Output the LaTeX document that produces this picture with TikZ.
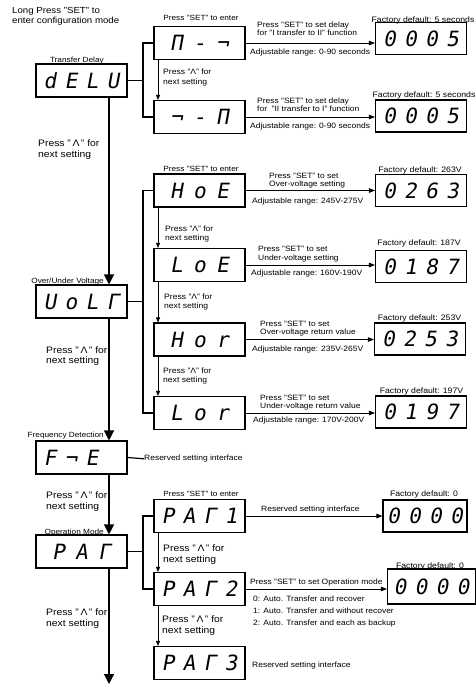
\documentclass[tikz,border=0pt]{standalone}
\usepackage{fontspec}
\setmainfont{Liberation Sans}[FakeStretch=1.1]
\newfontfamily\lcdfont{DejaVu Sans Mono}[FakeSlant=0.18]
\usetikzlibrary{arrows.meta}

\newcommand{\lcdch}[2][21pt]{\makebox[#1][c]{#2}}
\newcommand{\lcdfour}[4]{{\lcdfont\fontsize{21}{21}\selectfont\vphantom{0}\lcdch{#1}\lcdch{#2}\lcdch{#3}\lcdch{#4}}}
\newcommand{\lcdthree}[3]{{\lcdfont\fontsize{21}{21}\selectfont\vphantom{0}\lcdch[23pt]{#1}\lcdch[23pt]{#2}\lcdch[23pt]{#3}\hspace{15pt}}}

\tikzset{
  lcdbox/.style={draw, line width=1.1pt, fill=white, minimum width=91pt, minimum height=33pt, inner sep=0pt},
  valbox/.style={lcdbox, minimum height=32pt},
  catlabel/.style={font=\fontsize{7.5}{9}\selectfont, inner sep=0pt, anchor=base east},
  deflabel/.style={font=\fontsize{7.9}{9}\selectfont, inner sep=0pt, anchor=base},
  note/.style={font=\fontsize{7.7}{8}\selectfont, inner sep=0pt, align=left, anchor=north west},
  hint/.style={font=\fontsize{7.8}{9}\selectfont, inner sep=0pt, align=left, anchor=north west},
  bighint/.style={font=\fontsize{9.4}{11}\selectfont, inner sep=0pt, align=left, anchor=north west},
  mainarrow/.style={line width=1.2pt, -{Triangle[width=10pt,length=10pt]}},
  busline/.style={line width=1.2pt},
  nextarrow/.style={line width=0.7pt, -{Triangle[width=4pt,length=5pt]}},
  setarrow/.style={line width=0.8pt, -{Triangle[width=4.5pt,length=6pt]}}
}

\begin{document}
\begin{tikzpicture}[x=1pt, y=-1pt]
\useasboundingbox (0,0) rectangle (476,686);

% how to get in
\node[note, font=\fontsize{8.8}{10}\selectfont] (entry) at (12,7.6) {Long Press "SET" to\\enter configuration mode};

% main menu column
\node[lcdbox] (dely) at (81.5,80.5) {\lcdfour{d}{E}{L}{U}};
\node[lcdbox] (volt) at (81.5,301.5) {\lcdfour{U}{o}{L}{Γ}};
\node[lcdbox] (freq) at (81.5,457.5) {\lcdfour{F}{¬}{E}{}};
\node[lcdbox] (opmode) at (81.5,551.5) {\lcdthree{P}{A}{Γ}};

\node[catlabel] (delycat) at (104,62) {Transfer Delay};
\node[catlabel] (voltcat) at (104,283) {Over/Under Voltage};
\node[catlabel] (freqcat) at (104,437) {Frequency Detection};
\node[catlabel] (opcat) at (104,534) {Operation Mode};

\coordinate (tail) at (109,684);
\draw[mainarrow] ([xshift=27.5]dely.south) -- ([xshift=27.5]volt.north);
\draw[mainarrow] ([xshift=27.5]volt.south) -- ([xshift=27.5]freq.north);
\draw[mainarrow] ([xshift=27.5]freq.south) -- ([xshift=27.5]opmode.north);
\draw[mainarrow] ([xshift=27.5]opmode.south) -- (tail);

\node[bighint] (mainhinta) at (38,139.6) {Press "\,Λ\," for\\next setting};
\node[bighint, font=\fontsize{9.4}{10}\selectfont] (mainhintb) at (46,346.6) {Press "\,Λ\," for\\next setting};
\node[bighint] (mainhintc) at (46,491.6) {Press "\,Λ\," for\\next setting};
\node[bighint] (mainhintd) at (46,608.6) {Press "\,Λ\," for\\next setting};

% sub menus
\coordinate (bus) at (143,0);
\node[lcdbox] (itoii) at (199.5,43) {\lcdthree{Π}{-}{¬}};
\node[lcdbox] (iitoi) at (199.5,117) {\lcdthree{¬}{-}{Π}};
\node[lcdbox] (hoe) at (199.5,190.5) {\lcdthree{H}{o}{E}};
\node[lcdbox] (loe) at (199.5,265) {\lcdthree{L}{o}{E}};
\node[lcdbox] (hor) at (199.5,339.5) {\lcdthree{H}{o}{r}};
\node[lcdbox] (lor) at (199.5,413) {\lcdthree{L}{o}{r}};
\node[lcdbox] (parone) at (199.5,516) {\lcdfour{P}{A}{Γ}{1}};
\node[lcdbox] (partwo) at (199.5,589) {\lcdfour{P}{A}{Γ}{2}};
\node[lcdbox] (parthree) at (199.5,663) {\lcdfour{P}{A}{Γ}{3}};

\node[deflabel, font=\fontsize{7.5}{9}\selectfont] (enterd) at (201,20) {Press "SET" to enter};
\node[deflabel, font=\fontsize{7.5}{9}\selectfont] (enterv) at (201,171) {Press "SET" to enter};
\node[deflabel, font=\fontsize{7.5}{9}\selectfont] (entero) at (201,496) {Press "SET" to enter};

\draw[busline] (dely.east) -- (dely.east -| bus);
\draw[busline] (itoii.west) -| (bus |- iitoi.west) -- (iitoi.west);
\draw[busline] (volt.east) -- (volt.east -| bus);
\draw[busline] (hoe.west) -| (bus |- lor.west) -- (lor.west);
\draw[busline] (opmode.east) -- (opmode.east -| bus);
\draw[busline] (parone.west) -| (bus |- partwo.west) -- (partwo.west);

\draw[nextarrow] ([xshift=-41.5]itoii.south) -- ([xshift=-41.5]iitoi.north);
\draw[nextarrow] ([xshift=-41.5]hoe.south) -- ([xshift=-41.5]loe.north);
\draw[nextarrow] ([xshift=-41.5]loe.south) -- ([xshift=-41.5]hor.north);
\draw[nextarrow] ([xshift=-41.5]hor.south) -- ([xshift=-41.5]lor.north);
\draw[nextarrow] ([xshift=-41.5]parone.south) -- ([xshift=-41.5]partwo.north);
\draw[nextarrow] ([xshift=-41.5]partwo.south) -- ([xshift=-41.5]parthree.north);

\node[hint, font=\fontsize{7.8}{10}\selectfont] (hinta) at (163,69) {Press "Λ" for\\next setting};
\node[hint] (hintb) at (165,225.5) {Press "Λ" for\\next setting};
\node[hint] (hintc) at (164,293.5) {Press "Λ" for\\next setting};
\node[hint, font=\fontsize{7.8}{8.5}\selectfont] (hintd) at (163,368) {Press "Λ" for\\next setting};
\node[bighint, font=\fontsize{9.4}{10.5}\selectfont] (hinte) at (163,544.6) {Press "\,Λ\," for\\next setting};
\node[bighint, font=\fontsize{9.4}{10.5}\selectfont] (hintf) at (162,615.6) {Press "\,Λ\," for\\next setting};

% values
\node[valbox] (vone) at (421,38.5) {\lcdfour{0}{0}{0}{5}};
\node[valbox] (vtwo) at (421,116) {\lcdfour{0}{0}{0}{5}};
\node[valbox] (vthree) at (421,190.5) {\lcdfour{0}{2}{6}{3}};
\node[valbox] (vfour) at (421,266.5) {\lcdfour{0}{1}{8}{7}};
\node[valbox] (vfive) at (420,339) {\lcdfour{0}{2}{5}{3}};
\node[valbox] (vsix) at (421,412) {\lcdfour{0}{1}{9}{7}};
\node[valbox, minimum width=84pt] (vseven) at (425,516) {\lcdfour{0}{0}{0}{0}};
\node[valbox, minimum width=88pt, minimum height=35pt] (veight) at (431.5,586.5) {\lcdfour{0}{0}{0}{0}};

\node[deflabel] (dfone) at (423,22) {Factory default: 5 seconds};
\node[deflabel] (dftwo) at (424,97) {Factory default: 5 seconds};
\node[deflabel] (dfthree) at (420,172) {Factory default: 263V};
\node[deflabel] (dffour) at (419,245) {Factory default: 187V};
\node[deflabel] (dffive) at (419.5,320) {Factory default: 253V};
\node[deflabel] (dfsix) at (421.5,393) {Factory default: 197V};
\node[deflabel] (dfseven) at (424,496) {Factory default: 0};
\node[deflabel] (dfeight) at (430,568) {Factory default: 0};

\draw[setarrow] (itoii.east) -- (itoii.east -| vone.west);
\draw[setarrow] (iitoi.east) -- (iitoi.east -| vtwo.west);
\draw[setarrow] (hoe.east) -- (hoe.east -| vthree.west);
\draw[setarrow] (loe.east) -- (loe.east -| vfour.west);
\draw[setarrow] (hor.east) -- (hor.east -| vfive.west);
\draw[setarrow] (lor.east) -- (lor.east -| vsix.west);
\draw[setarrow] (parone.east) -- (parone.east -| vseven.west);
\draw[setarrow] (partwo.east) -- (partwo.east -| veight.west);

\node[note] (noteone) at (257,22) {Press "SET" to set delay\\for "I transfer to II" function};
\node[note] (rangeone) at (250,49) {Adjustable range: 0-90 seconds};
\node[note] (notetwo) at (257,98) {Press "SET" to set delay\\for \ "II transfer to I" function};
\node[note] (rangetwo) at (250,123) {Adjustable range: 0-90 seconds};
\node[note] (notethree) at (269,173) {Press "SET" to set\\Over-voltage setting};
\node[note] (rangethree) at (252,198) {Adjustable range: 245V-275V};
\node[note, font=\fontsize{7.7}{9}\selectfont] (notefour) at (258,246) {Press "SET" to set\\Under-voltage setting};
\node[note] (rangefour) at (251,270) {Adjustable range: 160V-190V};
\node[note] (notefive) at (260,321) {Press "SET" to set\\Over-voltage return value};
\node[note] (rangefive) at (252,346) {Adjustable range: 235V-265V};
\node[note] (notesix) at (260,395) {Press "SET" to set\\Under-voltage return value};
\node[note] (rangesix) at (253,417) {Adjustable range: 170V-200V};

\node[note] (freqnote) at (144,455) {Reserved setting interface};
\draw[busline] (freq.east) -- (freqnote.west);

\node[note] (noteseven) at (261,506) {Reserved setting interface};
\node[note] (noteeight) at (250,579) {Press "SET" to set Operation mode};
\node[note, font=\fontsize{7.7}{12}\selectfont] (modelist) at (253,596) {0: Auto. Transfer and recover\\1: Auto. Transfer and without recover\\2: Auto. Transfer and each as backup};
\node[note] (notenine) at (252,662) {Reserved setting interface};
\end{tikzpicture}
\end{document}
